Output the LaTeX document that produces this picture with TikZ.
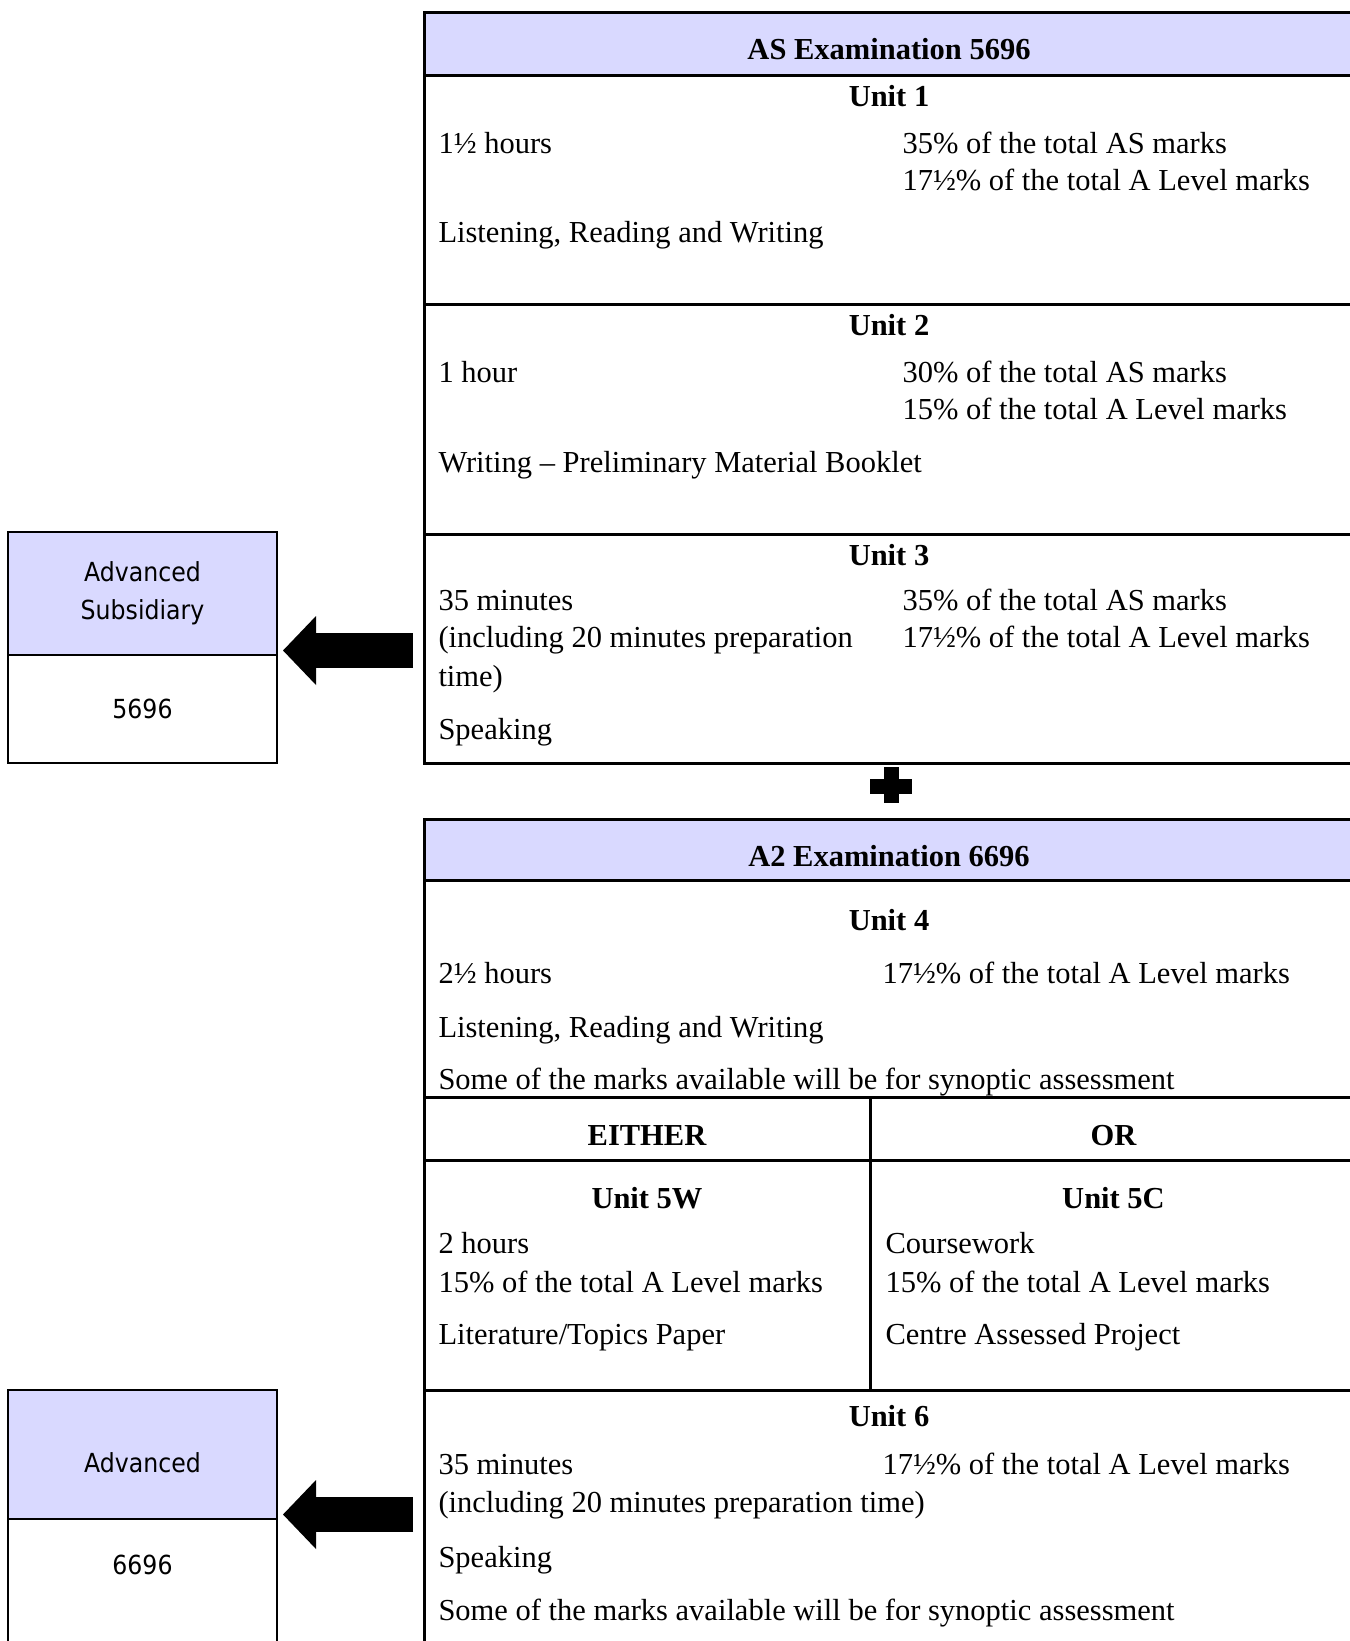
\documentclass[tikz,border=0pt]{standalone}
\usepackage{fontspec}
\setmainfont{Liberation Serif}
\newfontfamily\keyfont[FakeStretch=0.9]{DejaVu Sans}
\usepackage{xcolor}
\usetikzlibrary{positioning,arrows.meta}
\definecolor{headblue}{RGB}{217,217,255}

\begin{document}
\begin{tikzpicture}[x=0.4pt,y=-0.4pt,
    txt/.style={anchor=mid west,inner sep=0pt,yshift=-2pt,font=\fontsize{12.2}{15.3}\selectfont},
    ttl/.style={anchor=mid,inner sep=0pt,yshift=-2pt,font=\fontsize{12.2}{15.3}\selectfont\bfseries},
    keyhead/.style={draw,line width=0.8pt,fill=headblue,minimum width=107.6pt,outer sep=0pt,
      align=center,font=\keyfont\fontsize{10.5}{15.2}\selectfont},
    keycode/.style={draw,line width=0.8pt,minimum width=107.6pt,outer sep=0pt,
      font=\keyfont\fontsize{10.5}{15.2}\selectfont},
    tabline/.style={line width=1.2pt},
    blockarrow/.style={line width=14pt,-{Triangle[width=27.6pt,length=13.2pt,line width=0pt]},shorten >=2.4pt}]
  \useasboundingbox (0,0) rectangle (1350,1641);
  \coordinate (pagebot) at (0,1641);

  % AS examination
  \fill[headblue] (424,12.5) rectangle (1350,75);
  \draw[tabline] (1350,12.5) -- (424,12.5) -- (424,763) -- (1350,763);
  \draw[tabline] (424,75) -- (1350,75) (424,304) -- (1350,304) (424,534) -- (1350,534);
  \node[ttl] (ashead) at (889,49) {AS Examination 5696};
  \node[ttl] (unitone) at (889,96) {Unit 1};
  \node[txt] (onetime) at (438,143) {1½ hours};
  \node[txt] (oneas) at (902,143) {35\% of the total AS marks};
  \node[txt] (oneal) at (902,180) {17½\% of the total A Level marks};
  \node[txt] (oneskill) at (438,232) {Listening, Reading and Writing};
  \node[ttl] (unittwo) at (889,325) {Unit 2};
  \node[txt] (twotime) at (438,371.5) {1 hour};
  \node[txt] (twoas) at (902,371.5) {30\% of the total AS marks};
  \node[txt] (twoal) at (902,409) {15\% of the total A Level marks};
  \node[txt] (twoskill) at (438,461.5) {Writing – Preliminary Material Booklet};
  \node[ttl] (unitthree) at (889,555) {Unit 3};
  \node[txt] (threetime) at (438,600) {35 minutes};
  \node[txt] (threeas) at (902,600) {35\% of the total AS marks};
  \node[txt] (threeprep) at (438,637) {(including 20 minutes preparation};
  \node[txt] (threeal) at (902,637) {17½\% of the total A Level marks};
  \node[txt] (threeprepb) at (438,676) {time)};
  \node[txt] (threeskill) at (438,729) {Speaking};

  % plus
  \fill (870,779) rectangle (912,794);
  \fill (883.5,767) rectangle (898.5,803);

  % A2 examination
  \fill[headblue] (424,819) rectangle (1350,880);
  \draw[tabline] (1350,819) -- (424,819) -- (424,1641);
  \draw[tabline] (424,880) -- (1350,880) (424,1097) -- (1350,1097) (424,1160) -- (1350,1160)
    (424,1390) -- (1350,1390) (870,1097) -- (870,1390);
  \node[ttl] (athead) at (889,856) {A2 Examination 6696};
  \node[ttl] (unitfour) at (889,920) {Unit 4};
  \node[txt] (fourtime) at (438,973) {2½ hours};
  \node[txt] (foural) at (882,973) {17½\% of the total A Level marks};
  \node[txt] (fourskill) at (438,1026.5) {Listening, Reading and Writing};
  \node[txt] (foursyn) at (438,1079) {Some of the marks available will be for synoptic assessment};
  \node[ttl] (either) at (647,1134.5) {EITHER};
  \node[ttl] (or) at (1113.5,1134.5) {OR};
  \node[ttl] (unitfivew) at (647,1198) {Unit 5W};
  \node[ttl] (unitfivec) at (1113.5,1198) {Unit 5C};
  \node[txt] (fivewtime) at (438,1243) {2 hours};
  \node[txt] (fivecwork) at (885,1243) {Coursework};
  \node[txt] (fivewal) at (438,1282) {15\% of the total A Level marks};
  \node[txt] (fivecal) at (885,1282) {15\% of the total A Level marks};
  \node[txt] (fivewpaper) at (438,1334) {Literature/Topics Paper};
  \node[txt] (fivecproj) at (885,1334) {Centre Assessed Project};
  \node[ttl] (unitsix) at (889,1416) {Unit 6};
  \node[txt] (sixtime) at (438,1464) {35 minutes};
  \node[txt] (sixal) at (882,1464) {17½\% of the total A Level marks};
  \node[txt] (sixprep) at (438,1502) {(including 20 minutes preparation time)};
  \node[txt] (sixskill) at (438,1557) {Speaking};
  \node[txt] (sixsyn) at (438,1609.5) {Some of the marks available will be for synoptic assessment};

  % qualification boxes
  \node[keyhead,minimum height=49.2pt] (askey) at (142.5,593.5) {Advanced\\Subsidiary};
  \node[keycode,minimum height=43.2pt,below=0pt of askey] (ascode) {5696};
  \node[keyhead,minimum height=51.6pt,text height=14.6pt] (alkey) at (142.5,1454.5) {Advanced};
  \node[keycode,draw=none,minimum height=36.8pt,below=0pt of alkey] (alcode) {6696};
  \draw[line width=0.8pt] (alkey.south west) -- (alkey.south west |- pagebot)
    (alkey.south east) -- (alkey.south east |- pagebot);

  \coordinate (asfrom) at (413,650.5);
  \coordinate (alfrom) at (413,1514.5);
  \draw[blockarrow] (asfrom) -- (asfrom -| askey.east);
  \draw[blockarrow] (alfrom) -- (alfrom -| alkey.east);
\end{tikzpicture}
\end{document}
